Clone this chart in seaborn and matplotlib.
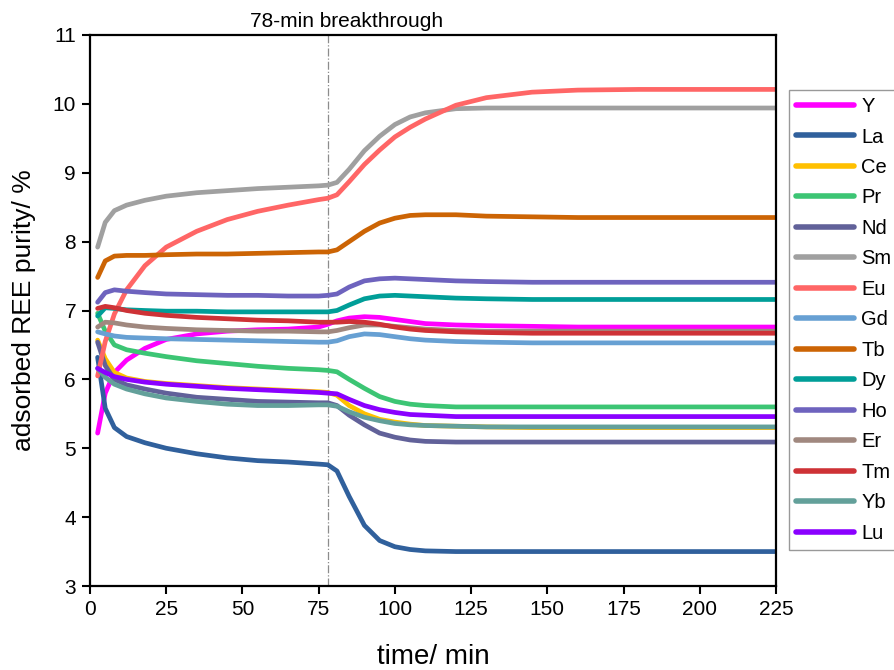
import numpy as np
import pandas as pd
import matplotlib
matplotlib.use("Agg")
import matplotlib.pyplot as plt
import seaborn as sns

# sampling times (min)
time_min = [2.5, 5, 8, 12, 18, 25, 35, 45, 55, 65, 75, 78, 81, 85, 90, 95,
            100, 105, 110, 120, 130, 145, 160, 180, 200, 225]

# adsorbed purity of each rare earth element (%)
Y  = [5.22, 5.80, 6.10, 6.28, 6.45, 6.58, 6.66, 6.70, 6.72, 6.73, 6.76, 6.80, 6.85,
      6.89, 6.91, 6.90, 6.87, 6.84, 6.81, 6.79, 6.78, 6.77, 6.76, 6.76, 6.76, 6.76]
La = [6.32, 5.58, 5.30, 5.17, 5.08, 5.00, 4.92, 4.86, 4.82, 4.80, 4.77, 4.76, 4.67,
      4.30, 3.88, 3.66, 3.57, 3.53, 3.51, 3.50, 3.50, 3.50, 3.50, 3.50, 3.50, 3.50]
Ce = [6.57, 6.30, 6.10, 6.02, 5.97, 5.94, 5.91, 5.88, 5.86, 5.84, 5.82, 5.81, 5.77,
      5.62, 5.50, 5.42, 5.38, 5.35, 5.33, 5.32, 5.31, 5.30, 5.30, 5.30, 5.30, 5.30]
Pr = [6.96, 6.70, 6.50, 6.43, 6.38, 6.33, 6.27, 6.23, 6.19, 6.16, 6.14, 6.13, 6.11,
      6.00, 5.87, 5.75, 5.68, 5.64, 5.62, 5.60, 5.60, 5.60, 5.60, 5.60, 5.60, 5.60]
Nd = [6.54, 6.20, 6.00, 5.92, 5.86, 5.80, 5.74, 5.71, 5.68, 5.67, 5.66, 5.66, 5.62,
      5.48, 5.34, 5.22, 5.16, 5.12, 5.10, 5.09, 5.09, 5.09, 5.09, 5.09, 5.09, 5.09]
Sm = [7.92, 8.28, 8.45, 8.53, 8.60, 8.66, 8.71, 8.74, 8.77, 8.79, 8.81, 8.82, 8.86,
      9.05, 9.32, 9.53, 9.70, 9.81, 9.87, 9.93, 9.94, 9.94, 9.94, 9.94, 9.94, 9.94]
Eu = [6.05, 6.55, 6.95, 7.30, 7.65, 7.92, 8.15, 8.32, 8.44, 8.53, 8.61, 8.63, 8.68,
      8.87, 9.12, 9.33, 9.52, 9.66, 9.78, 9.98, 10.09, 10.17, 10.20, 10.21, 10.21, 10.21]
Gd = [6.69, 6.66, 6.63, 6.61, 6.60, 6.59, 6.58, 6.57, 6.56, 6.55, 6.54, 6.54, 6.56,
      6.62, 6.66, 6.65, 6.62, 6.59, 6.57, 6.55, 6.54, 6.53, 6.53, 6.53, 6.53, 6.53]
Tb = [7.48, 7.72, 7.79, 7.80, 7.80, 7.81, 7.82, 7.82, 7.83, 7.84, 7.85, 7.85, 7.88,
      8.00, 8.15, 8.27, 8.34, 8.38, 8.39, 8.39, 8.37, 8.36, 8.35, 8.35, 8.35, 8.35]
Dy = [6.92, 7.04, 7.03, 7.01, 7.00, 6.99, 6.99, 6.98, 6.98, 6.98, 6.98, 6.98, 7.00,
      7.08, 7.17, 7.21, 7.22, 7.21, 7.20, 7.18, 7.17, 7.16, 7.16, 7.16, 7.16, 7.16]
Ho = [7.12, 7.26, 7.30, 7.28, 7.26, 7.24, 7.23, 7.22, 7.22, 7.21, 7.21, 7.22, 7.24,
      7.34, 7.43, 7.46, 7.47, 7.46, 7.45, 7.43, 7.42, 7.41, 7.41, 7.41, 7.41, 7.41]
Er = [6.76, 6.83, 6.82, 6.79, 6.76, 6.74, 6.72, 6.71, 6.70, 6.70, 6.69, 6.69, 6.71,
      6.75, 6.79, 6.79, 6.77, 6.75, 6.73, 6.71, 6.70, 6.70, 6.70, 6.70, 6.70, 6.70]
Tm = [7.03, 7.06, 7.04, 7.00, 6.96, 6.93, 6.90, 6.88, 6.86, 6.85, 6.83, 6.83, 6.83,
      6.84, 6.83, 6.80, 6.76, 6.73, 6.71, 6.69, 6.68, 6.67, 6.67, 6.67, 6.67, 6.67]
Yb = [6.16, 6.03, 5.93, 5.86, 5.79, 5.73, 5.68, 5.64, 5.62, 5.62, 5.63, 5.63, 5.61,
      5.53, 5.45, 5.40, 5.36, 5.34, 5.33, 5.32, 5.31, 5.31, 5.31, 5.31, 5.31, 5.31]
Lu = [6.16, 6.10, 6.04, 6.00, 5.96, 5.93, 5.90, 5.87, 5.85, 5.83, 5.81, 5.80, 5.79,
      5.71, 5.62, 5.56, 5.52, 5.49, 5.48, 5.46, 5.46, 5.46, 5.46, 5.46, 5.46, 5.46]

elements = ["Y", "La", "Ce", "Pr", "Nd", "Sm", "Eu", "Gd", "Tb", "Dy", "Ho",
            "Er", "Tm", "Yb", "Lu"]
series = [Y, La, Ce, Pr, Nd, Sm, Eu, Gd, Tb, Dy, Ho, Er, Tm, Yb, Lu]
colors = ["#FF00FF", "#30609C", "#FFC000", "#3CC574", "#616199", "#A0A0A0",
          "#FF6666", "#67A0D3", "#CC6404", "#009E98", "#6E63BE", "#A0887F",
          "#CE3236", "#63A09A", "#8A00FF"]

df = pd.DataFrame({
    "time": np.tile(time_min, len(elements)),
    "purity": np.concatenate(series),
    "element": np.repeat(elements, len(time_min)),
})

sns.set_theme(style="white")
plt.rcParams["font.family"] = ["Liberation Sans", "DejaVu Sans"]
plt.rcParams["text.color"] = "black"
plt.rcParams["axes.labelcolor"] = "black"

fig = plt.figure(figsize=(8.95, 6.70), dpi=100)
ax = fig.add_axes([90 / 895, 1 - 586 / 670, 686 / 895, 551 / 670])

sns.lineplot(data=df, x="time", y="purity", hue="element", hue_order=elements,
             palette=dict(zip(elements, colors)), linewidth=3.4, ax=ax,
             sort=False, estimator=None)
for ln in ax.get_lines():
    ln.set_solid_joinstyle("round")
    ln.set_solid_capstyle("round")

# breakthrough marker
ax.axvline(78, color="#8C8C8C", lw=0.9, ls="-.", zorder=0)
ax.text(52.5, 11.12, "78-min breakthrough", fontsize=15, color="black",
        ha="left", va="baseline")

ax.set_xlim(0, 225)
ax.set_ylim(3, 11)
ax.set_xticks(np.arange(0, 226, 25))
ax.set_yticks(np.arange(3, 12, 1))
ax.tick_params(axis="both", which="major", direction="out", length=6, width=1.5,
               labelsize=15, colors="black", left=True, bottom=True,
               top=False, right=False, pad=4)
for sp in ax.spines.values():
    sp.set_visible(True)
    sp.set_color("black")
    sp.set_linewidth(1.6)

ax.set_xlabel("time/ min", fontsize=20, labelpad=18, color="black")
ax.set_ylabel("adsorbed REE purity/ %", fontsize=19, labelpad=12, color="black")

handles, labels = ax.get_legend_handles_labels()
ax.get_legend().remove()
leg = fig.legend(handles, labels, loc="upper left",
                 bbox_to_anchor=(789 / 895, 1 - 90 / 670),
                 bbox_transform=fig.transFigure, fontsize=14.5,
                 frameon=True, fancybox=False, edgecolor="#808080",
                 handlelength=2.9, handletextpad=0.35, labelspacing=0.57,
                 borderpad=0.35, borderaxespad=0)
leg.get_frame().set_linewidth(1.0)
for txt in leg.get_texts():
    txt.set_color("black")
for ln in leg.get_lines():
    ln.set_linewidth(4)
    ln.set_solid_capstyle("round")

fig.savefig("out.png", dpi=100)
